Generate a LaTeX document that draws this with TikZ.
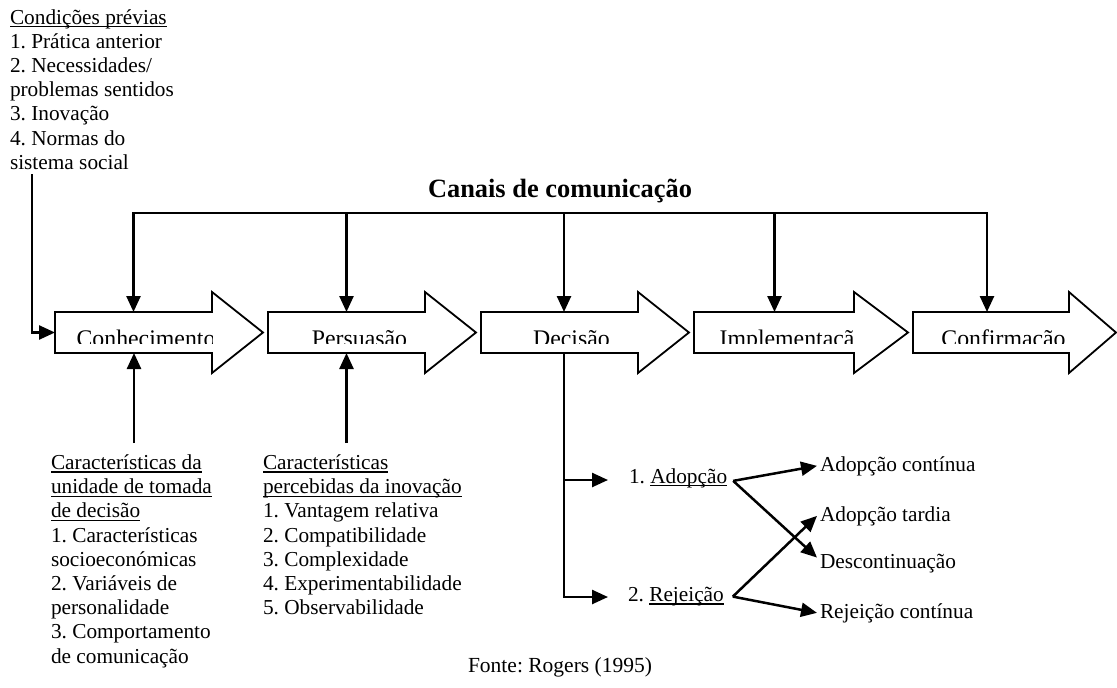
\documentclass[tikz,border=0pt]{standalone}
\usepackage{fontspec}
\setmainfont{Liberation Serif}
\usetikzlibrary{arrows.meta}
\frenchspacing

% word underline sitting just under the baseline
\newcommand\ulword[1]{\setbox0\hbox{#1}\rlap{\vrule height -1.8pt depth 3.2pt width \wd0}\box0}
% left-aligned stack of lines whose baseline is the first line
\newcommand\textlines[1]{\begin{tabular}[t]{@{}l@{}}#1\end{tabular}}
% block arrow of the process: name, left, head base, tip, label x, label
\newcommand\stagearrow[6]{%
  \node[stagebody, minimum width={#3-#2}] (#1) at ({(#2+#3)/2},332.5) {};
  \draw[stage] (#1.north west) -- (#1.north east) -- ([yshift=20pt]#1.north east)
    -- (#4,332.5) -- ([yshift=-20pt]#1.south east) -- (#1.south east)
    -- (#1.south west) -- cycle;
  \begin{scope}
    \clip (#2,312) rectangle (#3,343.5);
    \node[stagelabel] (#1-label) at (#5,346) {#6};
  \end{scope}%
}

\begin{document}
\begin{tikzpicture}[x=1pt,y=-1pt,
  every node/.style={inner sep=0pt, outer sep=0pt},
  txt/.style={font=\fontsize{21.3}{24.2}\selectfont},
  stagelabel/.style={font=\fontsize{23.8}{27}\selectfont, anchor=base},
  stage/.style={draw, line width=1.8pt, line join=miter, fill=white},
  stagebody/.style={minimum height=41pt, inner sep=0pt},
  wire/.style={line width=2.5pt, line join=miter},
  tip/.tip={Triangle[length=16pt,width=14pt]},
  link/.style={wire, -tip},
]
\fill[white] (0,0) rectangle (1117,688);
\useasboundingbox (0,0) rectangle (1117,688);

% the five stages
\stagearrow{conh}{55}{212}{263}{146}{Conhecimento}
\stagearrow{pers}{268}{425}{476}{359.5}{Persuasão}
\stagearrow{dec}{481}{638}{689}{571.5}{Decisão}
\stagearrow{impl}{694}{854}{908}{793}{Implementação}
\stagearrow{conf}{913}{1069}{1116}{1003.5}{Confirmação}

% communication channels
\node[font=\bfseries\fontsize{26.4}{30}\selectfont, anchor=base] (canais) at (560,197) {Canais de comunicação};
\coordinate (bar) at (560,213);
\draw[wire, tip-tip] (conh.north) |- (bar) -| ([xshift=-4pt]conf.north);
\draw[link] (pers.north |- bar) -- (pers.north);
\draw[link] ([xshift=4.5pt]dec.north |- bar) -- ([xshift=4.5pt]dec.north);
\draw[link] ([xshift=0.5pt]impl.north |- bar) -- ([xshift=0.5pt]impl.north);

% prior conditions
\node[txt, anchor=base west] (prior) at (10,24) {\textlines{\ulword{Condições prévias}\\1. Prática anterior\\2. Necessidades/\\problemas sentidos\\3. Inovação\\4. Normas do\\sistema social}};
\coordinate (prior-foot) at (32,174);
\draw[link] (prior-foot) |- (conh.west);

% characteristics feeding knowledge and persuasion
\node[txt, anchor=base west] (unit) at (51,469.5) {\textlines{\ulword{Características da}\\\ulword{unidade de tomada}\\\ulword{de decisão}\\1. Características\\socioeconómicas\\2. Variáveis de\\personalidade\\3. Comportamento\\de comunicação}};
\node[txt, anchor=base west] (percv) at (263,469.5) {\textlines{\ulword{Características}\\\ulword{percebidas da inovação}\\1. Vantagem relativa\\2. Compatibilidade\\3. Complexidade\\4. Experimentabilidade\\5. Observabilidade}};
\coordinate (unit-foot) at (134,443);
\coordinate (percv-foot) at (346.5,443);
\draw[link] (unit-foot) -- (unit-foot |- conh.south);
\draw[link] (percv-foot) -- (percv-foot |- pers.south);

% outcomes of the decision
\node[txt, anchor=base west] (adop) at (629,483) {1. \ulword{Adopção}};
\node[txt, anchor=base west] (rej) at (628,601.5) {2. \ulword{Rejeição}};
\coordinate (adop-in) at (608,480);
\coordinate (rej-in) at (608,597);
\draw[link] ([xshift=4.5pt]dec.south) |- (rej-in);
\draw[link] ([xshift=4.5pt]dec.south |- adop-in) -- (adop-in);

\node[txt, anchor=base west] (ac) at (820,471) {Adopção contínua};
\node[txt, anchor=base west] (late) at (820,521) {Adopção tardia};
\node[txt, anchor=base west] (desc) at (820,568.5) {Descontinuação};
\node[txt, anchor=base west] (rc) at (820,618) {Rejeição contínua};
\draw[link] ([xshift=6pt,yshift=-3pt]adop.east) -- ([xshift=-3pt]ac.west);
\draw[link] ([xshift=6pt,yshift=-3pt]adop.east) -- ([xshift=-3pt,yshift=6pt]desc.west);
\draw[link] ([xshift=9pt]rej.east) -- ([xshift=-3pt]late.west);
\draw[link] ([xshift=9pt]rej.east) -- ([xshift=-3pt]rc.west);

% source
\node[font=\fontsize{21.5}{24}\selectfont, anchor=base] (src) at (560,672) {Fonte: Rogers (1995)};
\end{tikzpicture}
\end{document}
